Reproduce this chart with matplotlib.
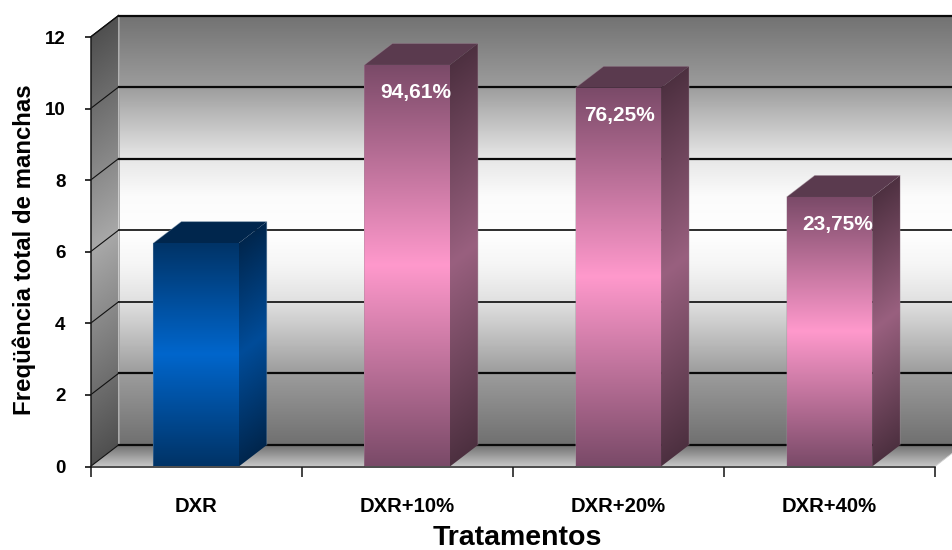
import numpy as np
import matplotlib
matplotlib.use("Agg")
import matplotlib.pyplot as plt
from matplotlib.colors import LinearSegmentedColormap
from matplotlib.patches import Polygon

categories = ["DXR", "DXR+10%", "DXR+20%", "DXR+40%"]
values = [6.24, 11.22, 10.58, 7.53]
percent_labels = ["", "94,61%", "76,25%", "23,75%"]
y_ticks = [0, 2, 4, 6, 8, 10, 12]
x_title = "Tratamentos"
y_title = "Freqüência total de manchas"

plt.rcParams["font.family"] = ["Liberation Sans", "DejaVu Sans"]
plt.rcParams["font.weight"] = "bold"

W, H = 952, 550
L, R, T, B = 90.5, 935.0, 37.0, 466.5
fig = plt.figure(figsize=(W / 100, H / 100), dpi=100, facecolor="white")
ax = fig.add_axes([L / W, (H - B) / H, (R - L) / W, (B - T) / H])
ax.patch.set_visible(False)
n = len(categories)
ymax = max(y_ticks)
ax.set_xlim(0, n)
ax.set_ylim(0, ymax)
ax.autoscale(False)

px_x = n / (R - L)
px_y = ymax / (B - T)
DX = 28 * px_x
DY = 21.5 * px_y
BAR_W = 85.5 * px_x


def cmap(*stops):
    return LinearSegmentedColormap.from_list("c", list(stops), N=1024)


def face(poly, x0, x1, y0, y1, cm, tfun, z):
    xs = np.linspace(x0, x1, 120)
    ys = np.linspace(y0, y1, 500)
    X, Y = np.meshgrid(xs, ys)
    im = ax.imshow(tfun(X, Y), extent=(x0, x1, y0, y1), origin="lower", aspect="auto",
                   cmap=cm, vmin=0, vmax=1, interpolation="bilinear", zorder=z)
    p = Polygon(poly, closed=True, transform=ax.transData, fill=False, edgecolor="none")
    im.set_clip_box(fig.bbox)
    im.set_clip_path(p)


wall_cm = cmap((0, "#727272"), (0.165, "#9c9c9c"), (0.33, "#e6e6e6"), (0.42, "#fbfbfb"),
               (0.5, "#ffffff"), (0.58, "#f6f6f6"), (0.67, "#e0e0e0"), (0.835, "#9c9c9c"), (1, "#707070"))
side_cm = cmap((0, "#505050"), (0.5, "#a8a8a8"), (1, "#505050"))
floor_cm = cmap((0, "#c6c6c6"), (1, "#6c6c6c"))

# back wall
face([(DX, DY), (n + DX, DY), (n + DX, ymax + DY), (DX, ymax + DY)],
     DX, n + DX, DY, ymax + DY, wall_cm, lambda X, Y: 1 - (Y - DY) / ymax, 1)
# floor
face([(0, 0), (n, 0), (n + DX, DY), (DX, DY)],
     0, n + DX, 0, DY, floor_cm, lambda X, Y: Y / DY, 1.5)
# left wall
face([(0, 0), (DX, DY), (DX, ymax + DY), (0, ymax)],
     0, DX, 0, ymax + DY, side_cm, lambda X, Y: np.clip((Y - X / DX * DY) / ymax, 0, 1), 2)

# grid
for v in y_ticks:
    lw_back = 1.6 if v in (0, 2, 8, 10, 12) else 1.2
    ax.plot([DX, n + DX], [v + DY, v + DY], color="#0a0a0a", lw=lw_back, clip_on=False, zorder=3)
    ax.plot([0, DX], [v, v + DY], color="#111111", lw=0.8, clip_on=False, zorder=3)
ax.plot([DX, DX], [0 + DY, ymax + DY], color="#a0a0a0", lw=0.6, clip_on=False, zorder=2.5)
ax.plot([n, n + DX], [0, DY], color="#d0d0d0", lw=0.6, clip_on=False, zorder=2.5)

# bars
palettes = [
    dict(f=("#003366", "#0066cc"), s=("#00264d", "#004c99"), t="#00264d", e="#7f99b2"),
    dict(f=("#7a4a68", "#ff99cc"), s=("#4d3040", "#99607f"), t="#5a3a4e", e="#a08a98"),
    dict(f=("#7a4a68", "#ff99cc"), s=("#4d3040", "#99607f"), t="#5a3a4e", e="#a08a98"),
    dict(f=("#7a4a68", "#ff99cc"), s=("#4d3040", "#99607f"), t="#5a3a4e", e="#a08a98"),
]
for i, (v, pal) in enumerate(zip(values, palettes)):
    x0 = i + 0.5 - BAR_W / 2
    x1 = x0 + BAR_W
    z = 5 + i
    fc = cmap((0, pal["f"][0]), (0.5, pal["f"][1]), (1, pal["f"][0]))
    sc = cmap((0, pal["s"][0]), (0.5, pal["s"][1]), (1, pal["s"][0]))
    face([(x0, 0), (x1, 0), (x1, v), (x0, v)], x0, x1, 0, v, fc,
         lambda X, Y, v=v: Y / v, z + 0.2)
    face([(x1, 0), (x1 + DX, DY), (x1 + DX, v + DY), (x1, v)], x1, x1 + DX, 0, v + DY, sc,
         lambda X, Y, v=v, x1=x1: np.clip((Y - (X - x1) / DX * DY) / v, 0, 1), z + 0.1)
    ax.add_patch(Polygon([(x0, v), (x1, v), (x1 + DX, v + DY), (x0 + DX, v + DY)], closed=True,
                         facecolor=pal["t"], edgecolor="none", clip_on=False, zorder=z + 0.1))
    ax.plot([x0, x0, x0 + DX, x1 + DX, x1 + DX], [0, v, v + DY, v + DY, DY], color=pal["e"],
            lw=0.6, alpha=0.45, clip_on=False, zorder=z + 0.3)

# percent labels, nudged from the bar centre
nudges = [0, 8.5, 1, 8]
for i, (v, s) in enumerate(zip(values, percent_labels)):
    if s:
        ax.text(i + 0.5 + nudges[i] * px_x, v - 28 * px_y, s, color="white", fontsize=15,
                fontweight="bold", ha="center", va="center", zorder=20)

# axes furniture
for name in ("top", "right"):
    ax.spines[name].set_visible(False)
for name in ("left", "bottom"):
    ax.spines[name].set_linewidth(1.1)
    ax.spines[name].set_color("#1a1a1a")
    ax.spines[name].set_zorder(15)
ax.plot([0, DX], [ymax, ymax + DY], color="#111111", lw=0.9, clip_on=False, zorder=3)

ax.set_yticks(y_ticks)
ax.tick_params(axis="y", which="major", length=4, width=1.2, pad=14, labelsize=13.5, color="#111111")
ax.set_xticks(np.arange(n + 1))
ax.set_xticklabels([])
ax.tick_params(axis="x", which="major", length=7, width=1.1, color="#111111")
ax.set_xticks(np.arange(n) + 0.5, categories, minor=True)
ax.tick_params(axis="x", which="minor", length=0, pad=22, labelsize=14.6)

ax.set_xlabel(x_title, fontsize=20.5, fontweight="bold", ha="center", va="center")
ax.xaxis.set_label_coords((517 - L) / (R - L), (B - 538) / (B - T))
ax.set_ylabel(y_title, fontsize=17.3, fontweight="bold", ha="center", va="center")
ax.yaxis.set_label_coords((24 - L) / (R - L), (B - 250) / (B - T))

fig.savefig("out.png", dpi=100, facecolor="white")
